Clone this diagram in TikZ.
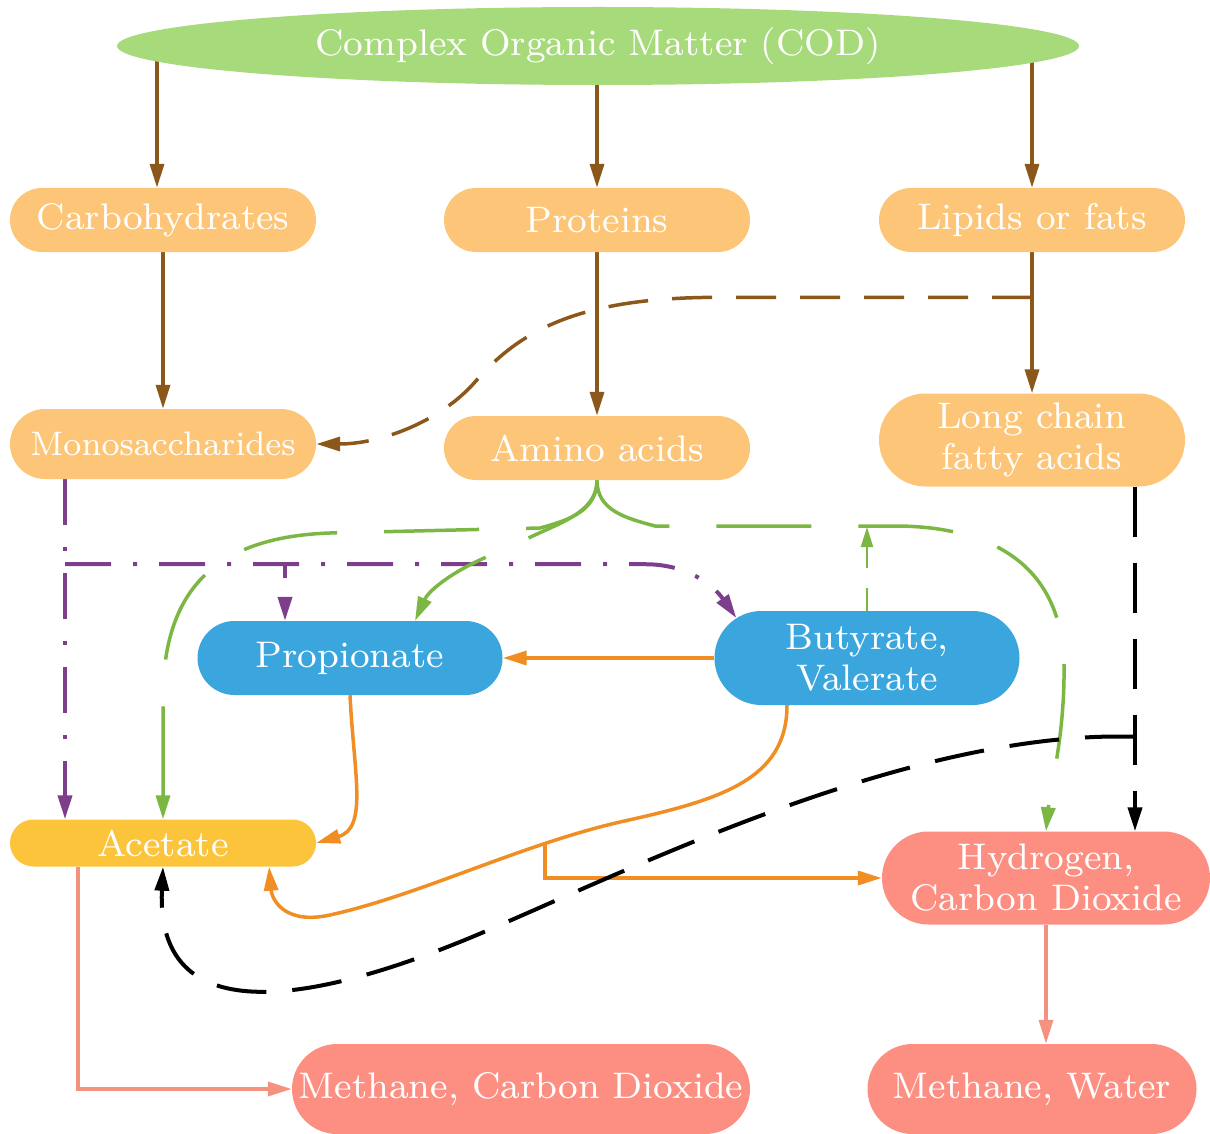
\documentclass[tikz,border=0pt]{standalone}
\usepackage{fontspec}
\newfontfamily\labelfont{lmroman8-regular.otf}
\usetikzlibrary{arrows.meta,shapes.geometric,shapes.misc,calc,backgrounds}

\definecolor{codgreen}{HTML}{A6DA7A}
\definecolor{feedorange}{HTML}{FDC577}
\definecolor{acidblue}{HTML}{3BA6DD}
\definecolor{acetyellow}{HTML}{FBC43A}
\definecolor{gassalmon}{HTML}{FD8F82}
\definecolor{hydbrown}{HTML}{8B571A}
\definecolor{ferpurple}{HTML}{7D3E8C}
\definecolor{amgreen}{HTML}{7BB742}
\definecolor{acorange}{HTML}{F08E23}
\definecolor{mesalmon}{HTML}{F5917F}

\begin{document}
\begin{tikzpicture}[x=1pt,y=-1pt,
  txt/.style={text=white,font=\labelfont\fontsize{37}{41}\selectfont,align=center,inner sep=0pt},
  pill/.style={txt,rounded rectangle},
  tip/.style={-{Triangle[length=24pt,width=14pt]}},
  brw/.style={draw=hydbrown,line width=3.5pt,tip},
  brdash/.style={dash pattern=on 40pt off 24pt},
  purp/.style={draw=ferpurple,line width=4pt,tip,dash pattern=on 46pt off 22pt on 4pt off 22pt},
  grn/.style={draw=amgreen,line width=3.5pt,tip,dash pattern=on 95pt off 47pt},
  grnthin/.style={draw=amgreen,line width=2.2pt,-{Triangle[length=20pt,width=12pt]},dash pattern=on 23pt off 20pt on 80pt off 10pt},
  org/.style={draw=acorange,line width=3.5pt,tip},
  blk/.style={draw=black,line width=4pt,tip,dash pattern=on 50pt off 26pt},
  slm/.style={draw=mesalmon,line width=3.5pt,tip}]

\useasboundingbox (0,0) rectangle (1210,1134);

% ---- nodes ----
\node[txt,ellipse,fill=codgreen,minimum width=962pt,minimum height=78pt] (cod) at (598,46) {Complex Organic Matter (COD)};

\node[pill,fill=feedorange,minimum width=306pt,minimum height=64pt] (carb) at (163,220) {Carbohydrates};
\node[pill,fill=feedorange,minimum width=306pt,minimum height=64pt] (prot) at (597,220) {Proteins};
\node[pill,fill=feedorange,minimum width=306pt,minimum height=64pt] (lip) at (1032,220) {Lipids or fats};

\node[pill,fill=feedorange,minimum width=306pt,minimum height=70pt,font=\labelfont\fontsize{34}{40}\selectfont] (mono) at (163,444) {Monosaccharides};
\node[pill,fill=feedorange,minimum width=306pt,minimum height=64pt] (amino) at (597,448) {Amino acids};
\node[pill,fill=feedorange,minimum width=306pt,minimum height=93pt] (lcfa) at (1032,440) {Long chain\\fatty acids};

\node[pill,fill=acidblue,minimum width=305pt,minimum height=74pt] (prop) at (350,658) {Propionate};
\node[pill,fill=acidblue,minimum width=305pt,minimum height=94pt] (butyr) at (867,658) {Butyrate,\\Valerate};

\node[pill,fill=acetyellow,minimum width=306pt,minimum height=47pt] (acet) at (163,843) {Acetate};
\node[pill,fill=gassalmon,minimum width=328pt,minimum height=93pt] (hyd) at (1046,878) {Hydrogen,\\Carbon Dioxide};

\node[pill,fill=gassalmon,minimum width=458pt,minimum height=90pt] (mcd) at (521,1089) {Methane, Carbon Dioxide};
\node[pill,fill=gassalmon,minimum width=329pt,minimum height=90pt] (mw) at (1032,1089) {Methane, Water};

% ---- connectors ----
\begin{scope}[on background layer]
% hydrolysis
\draw[brw] ([xshift=-6pt]carb.north |- cod.center) -- ([xshift=-6pt]carb.north);
\draw[brw] (prot.north |- cod.center) -- (prot.north);
\draw[brw] (lip.north |- cod.center) -- (lip.north);
\draw[brw] (carb.south) -- (mono.north);
\draw[brw] (prot.south) -- (amino.north);
\draw[brw] (lip.south) -- (lcfa.north);
\coordinate (lfork) at ($(lip.south)!0.32!(lcfa.north)$);
\draw[brw,brdash] (lfork) -- ++(-312,0) .. controls (580,297) and (520,330) .. (475,382)
  .. controls (440,422) and (380,444) .. (mono.east);

% sugars to acids
\coordinate (pL) at ([xshift=-98pt]mono.south);
\draw[purp] (pL) -- (pL |- acet.north);
\coordinate (pJ) at ($(pL)!0.25!(pL |- acet.north)$);
\draw[purp] (pJ) -| ([xshift=-65pt]prop.north);
\draw[purp] (pJ) -- ++(580,0) to[out=0,in=125] (butyr.163);

% amino acids to acids and gases
\draw[grn] (amino.south) .. controls +(0,30) and +(30,-8) .. (540,528) -- (330,533)
  .. controls (215,537) and (166,590) .. (163,690) -- (acet.north);
\draw[grn] (amino.south) .. controls +(0,30) and +(30,-14) .. (535,535) -- (482,559)
  .. controls (447,575) and (428,592) .. ([xshift=65pt]prop.north);
\draw[grn] (amino.south) .. controls +(0,30) and +(-30,-8) .. (655,526) -- (900,526)
  .. controls (1005,528) and (1062,575) .. (1064,665)
  .. controls (1065,735) and (1050,790) .. (hyd.north);
\coordinate (gtop) at (butyr.north |- 0,527);
\draw[grnthin] (butyr.north) -- (gtop);

% acetogenesis
\draw[org] (butyr.west) -- (prop.east);
\draw[org] (prop.south) .. controls (354,775) and (368,828) .. (acet.east);
\draw[org] ([xshift=-80pt]butyr.south) .. controls (787,780) and (720,800) .. (620,822)
  .. controls (520,845) and (420,895) .. (330,915) coordinate[pos=0.25] (obr)
  .. controls (285,925) and (272,900) .. ([xshift=106pt]acet.south);
\draw[org] (obr) |- (hyd.west);

% fatty acids
\coordinate (bx) at ([xshift=103pt]lcfa.south);
\draw[blk] (bx) -- (bx |- hyd.north);
\coordinate (bj) at ($(bx)!0.725!(bx |- hyd.north)$);
\draw[blk] (bj) -- ++(-25,0) .. controls (900,740) and (650,860) .. (500,925)
  .. controls (330,1000) and (155,1040) .. (acet.south);

% methanogenesis
\draw[slm] ([xshift=-85pt]acet.south) |- (mcd.west);
\draw[slm] (hyd.south) -- (hyd.south |- mw.north);
\end{scope}
\end{tikzpicture}
\end{document}
